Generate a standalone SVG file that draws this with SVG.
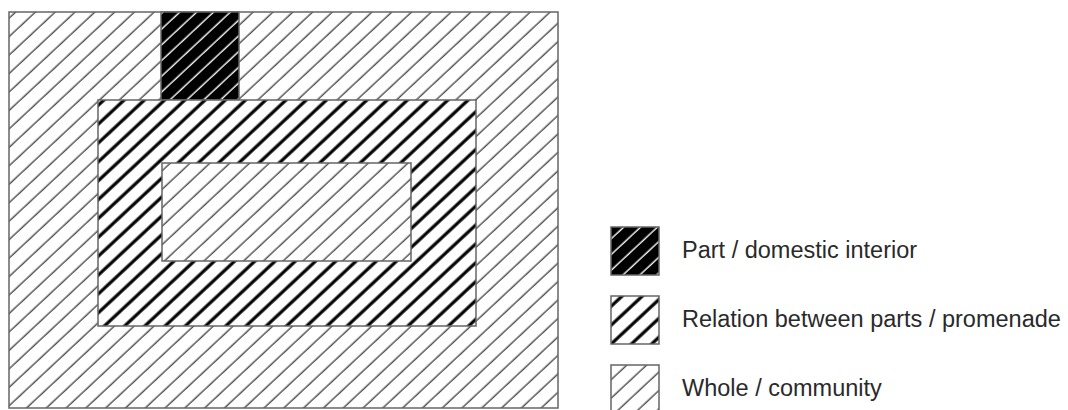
<svg xmlns="http://www.w3.org/2000/svg" width="1068" height="410" viewBox="0 0 1068 410">
  <defs>
    <pattern id="light" patternUnits="userSpaceOnUse" width="20" height="13.5" patternTransform="rotate(-43)">
      <line x1="0" y1="6" x2="20" y2="6" stroke="#4a4a4a" stroke-width="1.4"/>
    </pattern>
    <pattern id="dark" patternUnits="userSpaceOnUse" width="20" height="13.8" patternTransform="rotate(-43)">
      <line x1="0" y1="6" x2="20" y2="6" stroke="#000" stroke-width="3.2"/>
    </pattern>
    <pattern id="black" patternUnits="userSpaceOnUse" width="20" height="11.5" patternTransform="rotate(-43)">
      <rect x="0" y="0" width="20" height="11.5" fill="#000"/>
      <line x1="0" y1="5" x2="20" y2="5" stroke="#fff" stroke-width="1.4"/>
    </pattern>
  </defs>
  <style>
    .frame { stroke: #666; stroke-width: 1.5; }
    .lbl { font-family: "Liberation Sans", Arial, sans-serif; font-size: 23.5px; fill: #2a2a2a; }
  </style>
  <rect width="1068" height="410" fill="#fff"/>

  <g id="whole">
    <rect x="9" y="12" width="549" height="396" fill="#fff"/>
    <rect class="frame" x="9" y="12" width="549" height="396" fill="url(#light)"/>
  </g>
  <g id="part">
    <rect class="frame" x="161" y="12" width="78" height="88" fill="url(#black)"/>
  </g>
  <g id="relation">
    <rect x="98" y="100" width="378" height="226" fill="#fff"/>
    <rect class="frame" x="98" y="100" width="378" height="226" fill="url(#dark)"/>
  </g>
  <g id="inner-whole">
    <rect x="162" y="163" width="249" height="98" fill="#fff"/>
    <rect class="frame" x="162" y="163" width="249" height="98" fill="url(#light)"/>
  </g>

  <g id="legend-part">
    <rect class="frame" x="611" y="227" width="48" height="48" fill="url(#black)"/>
    <text class="lbl" x="682" y="258">Part / domestic interior</text>
  </g>
  <g id="legend-relation">
    <rect x="611" y="296" width="48" height="48" fill="#fff"/>
    <rect class="frame" x="611" y="296" width="48" height="48" fill="url(#dark)"/>
    <text class="lbl" x="682" y="327">Relation between parts / promenade</text>
  </g>
  <g id="legend-whole">
    <rect x="611" y="365" width="48" height="48" fill="#fff"/>
    <rect class="frame" x="611" y="365" width="48" height="48" fill="url(#light)"/>
    <text class="lbl" x="682" y="396">Whole / community</text>
  </g>
  <g id="connectors"/>
</svg>
